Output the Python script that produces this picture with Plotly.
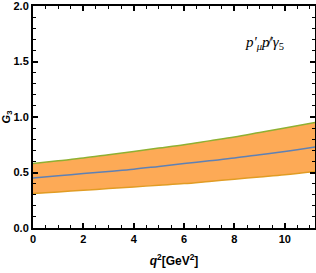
import plotly.graph_objects as go

q2 = [0, 1, 2, 3, 4, 5, 6, 7, 8, 9, 10, 11.2]
g_center = [0.45, 0.47, 0.49, 0.51, 0.53, 0.555, 0.58, 0.605, 0.63, 0.66, 0.69, 0.73]
g_upper = [0.58, 0.605, 0.63, 0.66, 0.69, 0.72, 0.75, 0.785, 0.82, 0.86, 0.90, 0.95]
g_lower = [0.31, 0.325, 0.34, 0.355, 0.37, 0.385, 0.40, 0.42, 0.44, 0.46, 0.48, 0.51]

fig = go.Figure()
fig.add_trace(go.Scatter(x=q2, y=g_lower, mode="lines", line=dict(color="#E19C24", width=1.5, shape="spline"), showlegend=False))
fig.add_trace(go.Scatter(x=q2, y=g_upper, mode="lines", fill="tonexty", fillcolor="#FDAA56",
                         line=dict(color="#8FB032", width=1.5, shape="spline"), showlegend=False))
fig.add_trace(go.Scatter(x=q2, y=g_center, mode="lines", line=dict(color="#5E81B5", width=1.5, shape="spline"), showlegend=False))

tickfont = dict(family="Liberation Sans, Arial", size=11, color="black", weight="bold")
axis_common = dict(showgrid=False, zeroline=False, showline=True, linecolor="black", linewidth=2,
                   mirror="ticks", ticks="inside", ticklen=5, tickwidth=1.5, tickcolor="black",
                   tickfont=tickfont, automargin=False, ticklabeloverflow="allow")
fig.update_xaxes(range=[0, 11.2], tickvals=[0, 2, 4, 6, 8, 10], ticktext=["0", "2", "4", "6", "8", "10"],
                 minor=dict(ticks="inside", ticklen=3, tickwidth=1, tickcolor="black", dtick=0.5),
                 title=dict(text="<i>q</i><sup>2</sup>[GeV<sup>2</sup>]", font=dict(family="Liberation Sans, Arial", size=12, color="black", weight="bold"), standoff=12),
                 **axis_common)
fig.update_yaxes(range=[0, 2.0], tickvals=[0, 0.5, 1.0, 1.5, 2.0], ticktext=["0.0", "0.5", "1.0", "1.5", "2.0"],
                 minor=dict(ticks="inside", ticklen=3, tickwidth=1, tickcolor="black", dtick=0.1),
                 title=dict(text="<i>G</i><sub>3</sub>", font=dict(family="Liberation Sans, Arial", size=11, color="black", weight="bold"), standoff=4),
                 **axis_common)

fig.add_annotation(x=9.2, y=1.67, xref="x", yref="y", showarrow=False,
                   text="<i>p'<sub>μ</sub>p̸'γ</i><sub>5</sub>",
                   font=dict(family="Liberation Serif, DejaVu Serif", size=15, color="black"))

fig.update_layout(width=316, height=273, margin=dict(l=33, r=1, t=6, b=45),
                  plot_bgcolor="white", paper_bgcolor="white")
fig.write_html("out.html", config={"displayModeBar": False},
               post_script="document.body.style.margin='0';document.body.style.overflow='hidden';")
